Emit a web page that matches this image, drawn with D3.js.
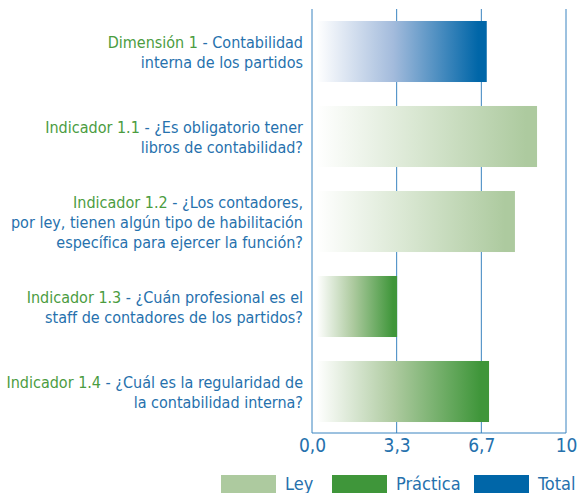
<!DOCTYPE html>
<html lang="es">
<head>
<meta charset="UTF-8">
<title>Dimensión 1 - Contabilidad interna de los partidos</title>
<script src="https://d3js.org/d3.v7.min.js"></script>
<style>
    body { margin: 0; background: #fff; }
    svg text { font-family: "Liberation Sans Narrow", "DejaVu Sans Condensed", "Roboto Condensed", Arial, sans-serif; }
    .q { fill: #2671ad; font-size: 16px; }
    .code { fill: #4b9c3f; }
    .tick text { fill: #2671ad; font-size: 19px; }
    .legend text { fill: #2671ad; font-size: 18px; }
</style>
</head>
<body>
<svg id="chart" width="579" height="493"></svg>
<script>
    // categories, values and which series each bar belongs to
    const codes = ["Dimensión 1", "Indicador 1.1", "Indicador 1.2", "Indicador 1.3", "Indicador 1.4"];
    const questions = [
        ["Contabilidad", "interna de los partidos"],
        ["¿Es obligatorio tener", "libros de contabilidad?"],
        ["¿Los contadores,", "por ley, tienen algún tipo de habilitación", "específica para ejercer la función?"],
        ["¿Cuán profesional es el", "staff de contadores de los partidos?"],
        ["¿Cuál es la regularidad de", "la contabilidad interna?"]
    ];
    const values = [6.88, 8.86, 7.99, 3.35, 6.97];
    const barSeries = ["Total", "Ley", "Ley", "Práctica", "Práctica"];
    const tickValues = [0, 10 / 3, 20 / 3, 10];
    const tickLabels = ["0,0", "3,3", "6,7", "10"];
    const legendNames = ["Ley", "Práctica", "Total"];

    const colors = { "Ley": "#adca9f", "Práctica": "#3f963a", "Total": "#0066a8" };
    const midColors = { "Ley": "#d9e7d2", "Práctica": "#adca9f", "Total": "#a3bbdc" };

    const svg = d3.select("#chart");

    const x = d3.scaleLinear().domain([0, 10]).range([312, 566]);
    const y = d3.scaleBand()
        .domain(codes)
        .range([9, 434])
        .paddingInner(0.282)
        .paddingOuter(0.141);
    const axisY = 433;

    // gradients, white on the left to the series colour on the right
    const defs = svg.append("defs");
    legendNames.forEach((name, i) => {
        const g = defs.append("linearGradient").attr("id", "grad" + i);
        g.append("stop").attr("offset", "0").attr("stop-color", "#ffffff");
        g.append("stop").attr("offset", "0.45").attr("stop-color", midColors[name]);
        g.append("stop").attr("offset", "0.95").attr("stop-color", colors[name]);
    });

    // grid and frame
    svg.append("g").selectAll("line")
        .data(tickValues)
        .join("line")
        .attr("x1", d => x(d)).attr("x2", d => x(d))
        .attr("y1", 9).attr("y2", axisY)
        .attr("stroke", "#3a84c0")
        .attr("stroke-width", 1);

    svg.append("line")
        .attr("x1", x(0)).attr("x2", x(10))
        .attr("y1", axisY).attr("y2", axisY)
        .attr("stroke", "#3a84c0")
        .attr("stroke-width", 1);

    // bars
    svg.append("g").selectAll("rect")
        .data(codes)
        .join("rect")
        .attr("x", x(0) + 5)
        .attr("y", d => y(d))
        .attr("width", (d, i) => x(values[i]) - x(0) - 5)
        .attr("height", y.bandwidth())
        .attr("fill", (d, i) => `url(#grad${legendNames.indexOf(barSeries[i])})`);

    // x axis labels
    svg.append("g")
        .attr("transform", `translate(0, ${axisY})`)
        .call(d3.axisBottom(x).tickValues(tickValues).tickSize(0).tickPadding(6)
            .tickFormat((d, i) => tickLabels[i]))
        .call(g => g.select(".domain").remove())
        .selectAll("text").attr("font-size", null);

    // category labels, right aligned
    const lineH = 20;
    codes.forEach((code, i) => {
        const lines = questions[i];
        const cy = y(code) + y.bandwidth() / 2;
        const first = cy + 6 - (lines.length - 1) * lineH / 2;
        lines.forEach((line, j) => {
            const t = svg.append("text")
                .attr("class", "q")
                .attr("x", 303)
                .attr("y", first + j * lineH)
                .attr("text-anchor", "end");
            if (j === 0) {
                t.append("tspan").attr("class", "code").text(code);
                t.append("tspan").text(" - " + line);
            } else {
                t.text(line);
            }
        });
    });

    // legend
    const legendX = [221, 332, 474];
    const legend = svg.append("g").attr("class", "legend");
    legendNames.forEach((name, i) => {
        legend.append("rect")
            .attr("x", legendX[i]).attr("y", 475)
            .attr("width", 55).attr("height", 18)
            .attr("fill", colors[name]);
        legend.append("text")
            .attr("x", legendX[i] + 64).attr("y", 490)
            .text(name);
    });
</script>
</body>
</html>
